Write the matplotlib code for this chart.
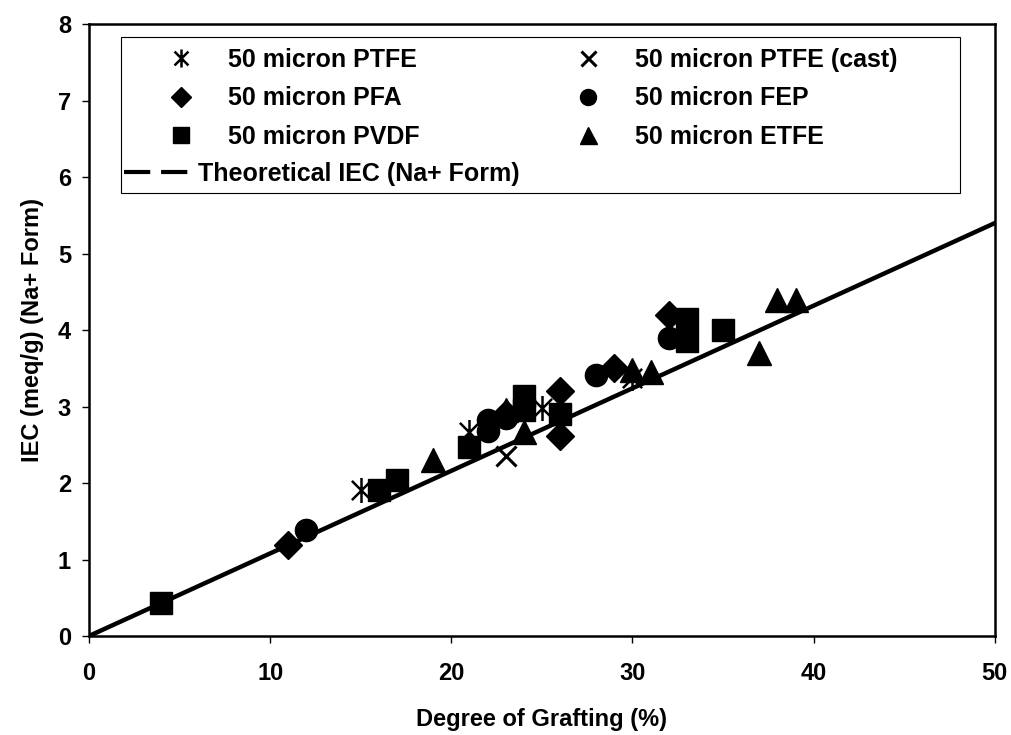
import numpy as np
import matplotlib
matplotlib.use("Agg")
import matplotlib.pyplot as plt
from matplotlib.path import Path
from matplotlib.lines import Line2D
from matplotlib.patches import Rectangle

plt.rcParams['font.family'] = ['Liberation Sans', 'DejaVu Sans']
plt.rcParams['font.weight'] = 'bold'

# Degree of grafting (%) and IEC (meq/g) for each membrane type
ptfe_x = [15, 21, 25, 30]
ptfe_y = [1.91, 2.67, 2.98, 3.38]

ptfe_cast_x = [23]
ptfe_cast_y = [2.35]

pfa_x = [11, 23, 26, 26, 29, 32]
pfa_y = [1.19, 2.90, 3.20, 2.62, 3.50, 4.20]

fep_x = [12, 22, 22, 23, 28, 32]
fep_y = [1.39, 2.82, 2.68, 2.85, 3.41, 3.90]

pvdf_x = [4, 16, 17, 21, 24, 24, 26, 33, 33, 35]
pvdf_y = [0.43, 1.91, 2.04, 2.47, 3.14, 2.95, 2.90, 4.15, 3.86, 4.00]

etfe_x = [19, 23, 24, 30, 31, 37, 38, 39]
etfe_y = [2.30, 2.95, 2.67, 3.48, 3.45, 3.70, 4.40, 4.40]

# Theoretical IEC line end points
theory_x = [0, 50]
theory_y = [0, 5.4]

labels = ["50 micron PTFE", "50 micron PTFE (cast)", "50 micron PFA",
          "50 micron FEP", "50 micron PVDF", "50 micron ETFE",
          "Theoretical IEC (Na+ Form)"]

W, H = 1011, 735

# Asterisk: an X with a vertical stroke
ast = Path([(-1, -1), (1, 1), (-1, 1), (1, -1), (0, -1.3), (0, 1.3)],
           [Path.MOVETO, Path.LINETO, Path.MOVETO, Path.LINETO,
            Path.MOVETO, Path.LINETO])

fig = plt.figure(figsize=(W / 100, H / 100), dpi=100)
ax = fig.add_axes([0.088, 0.1347, 0.896, 0.8323])

ax.plot(theory_x, theory_y, color='black', lw=3.2, zorder=2)

h_ptfe, = ax.plot(ptfe_x, ptfe_y, ls='none', marker=ast, ms=18, mew=1.8,
                  color='black', zorder=3)
h_cast, = ax.plot(ptfe_cast_x, ptfe_cast_y, ls='none', marker='x', ms=15,
                  mew=2.2, color='black', zorder=3)
h_pfa, = ax.plot(pfa_x, pfa_y, ls='none', marker='D', ms=14,
                 color='black', zorder=3)
h_fep, = ax.plot(fep_x, fep_y, ls='none', marker='o', ms=16,
                 color='black', zorder=3)
h_pvdf, = ax.plot(pvdf_x, pvdf_y, ls='none', marker='s', ms=16,
                  color='black', zorder=3)
h_etfe, = ax.plot(etfe_x, etfe_y, ls='none', marker='^', ms=17,
                  color='black', zorder=3)
h_line = Line2D([], [], color='black', lw=3, ls=(0, (6.3, 2.6)))

ax.set_xlim(0, 50)
ax.set_ylim(0, 8)
ax.set_xticks(np.arange(0, 51, 10))
ax.set_yticks(np.arange(0, 9, 1))
ax.tick_params(axis='both', labelsize=17, width=1, length=5, direction='out')
ax.tick_params(axis='x', pad=14)
ax.tick_params(axis='y', pad=8)
for lab in ax.get_xticklabels() + ax.get_yticklabels():
    lab.set_fontweight('bold')
for sp in ax.spines.values():
    sp.set_linewidth(1.8)

ax.set_xlabel("Degree of Grafting (%)", fontsize=17, fontweight='bold',
              labelpad=16)
ax.set_ylabel("IEC (meq/g) (Na+ Form)", fontsize=17, fontweight='bold',
              labelpad=10)

# Legend: two marker columns plus the line entry, inside one box
LFS = 18
common = dict(loc='upper left', bbox_transform=fig.transFigure,
              frameon=False, borderpad=0, borderaxespad=0,
              prop={'size': LFS, 'weight': 'bold'}, labelspacing=0.57,
              markerscale=0.72)


def fig_xy(px, py):
    return (px / W, 1 - py / H)


leg1 = ax.legend([h_ptfe, h_pfa, h_pvdf], [labels[0], labels[2], labels[4]],
                 bbox_to_anchor=fig_xy(156, 48), handlelength=2,
                 handletextpad=0.88, **common)
ax.add_artist(leg1)
leg2 = ax.legend([h_cast, h_fep, h_etfe], [labels[1], labels[3], labels[5]],
                 bbox_to_anchor=fig_xy(563, 48), handlelength=2,
                 handletextpad=0.88, **common)
ax.add_artist(leg2)
ax.legend([h_line], [labels[6]], bbox_to_anchor=fig_xy(124, 162),
          handlelength=2.84, handletextpad=0.12, **common)

fig.patches.append(Rectangle(fig_xy(121, 193), (960 - 121) / W,
                             (193 - 37) / H, transform=fig.transFigure,
                             fill=False, edgecolor='black', lw=0.8,
                             zorder=5))

fig.savefig("out.png", dpi=100, facecolor='white')
